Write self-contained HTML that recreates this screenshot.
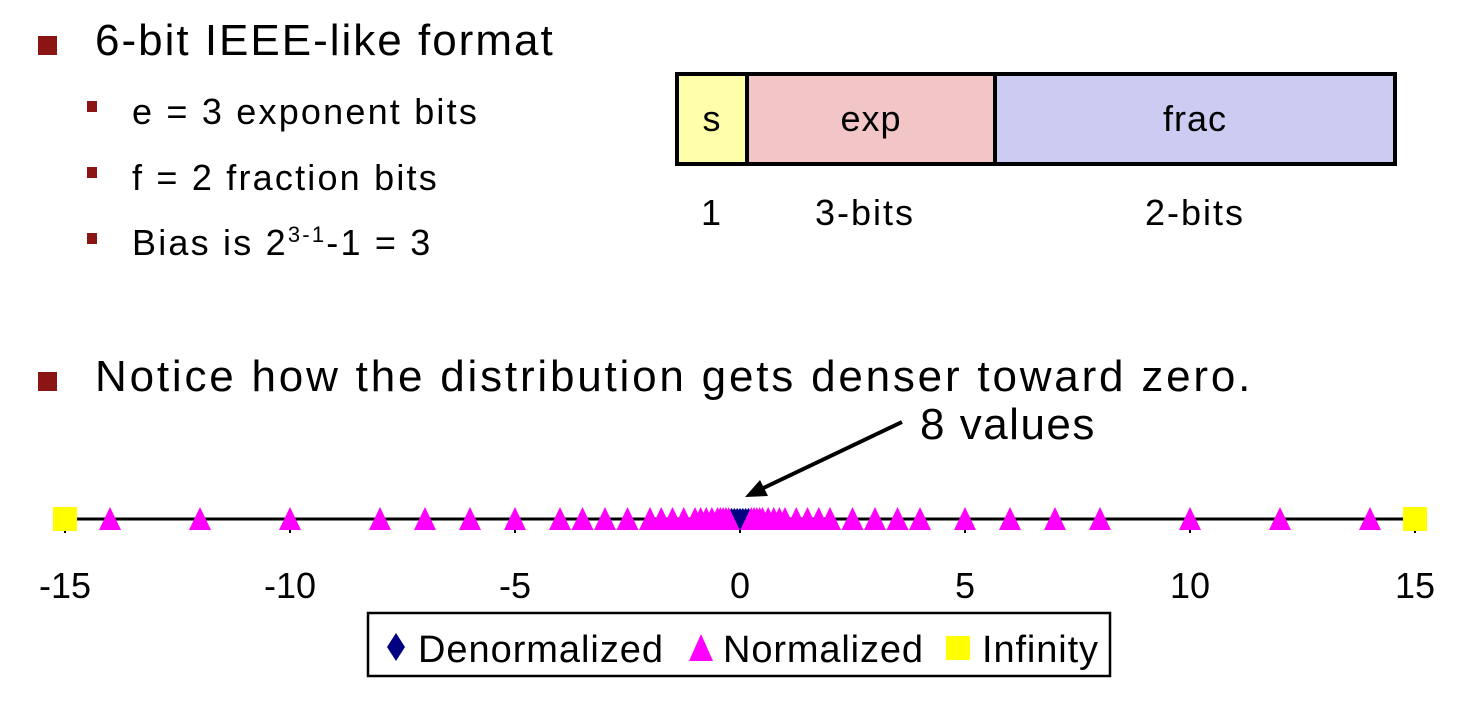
<!DOCTYPE html>
<html><head><meta charset="utf-8"><style>
body{margin:0;background:#fff;width:1481px;height:705px;overflow:hidden;position:relative;font-family:"Liberation Sans",sans-serif}
.t{position:absolute;white-space:nowrap;color:#000}
.b1{position:absolute;width:19px;height:19px;background:#8b1414}
.b2{position:absolute;width:10px;height:11px;background:#8b1414}
.big{font-size:44px;letter-spacing:2px}
.sub{font-size:36px;letter-spacing:2.2px}
</style></head><body>
<div class="b1" style="left:38px;top:36px"></div>
<div class="t big" style="left:95px;top:16px">6-bit IEEE-like format</div>
<div class="b2" style="left:87px;top:101px"></div>
<div class="t sub" style="left:132px;top:91px">e = 3 exponent bits</div>
<div class="b2" style="left:87px;top:167px"></div>
<div class="t sub" style="left:132px;top:157px">f = 2 fraction bits</div>
<div class="b2" style="left:87px;top:233px"></div>
<div class="t sub" style="left:132px;top:222px">Bias is 2<sup style="font-size:22px">3-1</sup>-1 = 3</div>

<div style="position:absolute;left:675px;top:72px;width:722px;height:94px;border:4px solid #000;box-sizing:border-box;display:flex">
<div style="width:66px;background:#ffffaa;border-right:4px solid #000;display:flex;align-items:center;justify-content:center;font-size:36px;letter-spacing:1px">s</div>
<div style="width:244px;background:#f2c6c6;border-right:4px solid #000;display:flex;align-items:center;justify-content:center;font-size:36px;letter-spacing:1px">exp</div>
<div style="flex:1;background:#ccccf2;display:flex;align-items:center;justify-content:center;font-size:36px;letter-spacing:1px">frac</div>
</div>
<div class="t" style="left:701px;top:192px;font-size:36px">1</div>
<div class="t" style="left:815px;top:192px;font-size:36px;letter-spacing:2px">3-bits</div>
<div class="t" style="left:1145px;top:192px;font-size:36px;letter-spacing:2px">2-bits</div>

<div class="b1" style="left:38px;top:372px"></div>
<div class="t" style="left:95px;top:352px;font-size:44px;letter-spacing:2.8px">Notice how the distribution gets denser toward zero.</div>
<div class="t" style="left:920px;top:400px;font-size:44px;letter-spacing:1.5px">8 values</div>

<svg id="chart" width="1481" height="705" style="position:absolute;left:0;top:0"></svg>
<script>
const denormValues=[-0.1875,-0.125,-0.0625,0,0.0625,0.125,0.1875];
const normValues=[0.25,0.3125,0.375,0.4375,0.5,0.625,0.75,0.875,1,1.25,1.5,1.75,2,2.5,3,3.5,4,5,6,7,8,10,12,14];
const infValues=[-15,15];
const tickValues=[-15,-10,-5,0,5,10,15];
const tickLabels=["-15","-10","-5","0","5","10","15"];
const svg=document.getElementById('chart');const NS='http://www.w3.org/2000/svg';
function X(v){return 740+v*45;}const Y=519;
function mk(tag,attrs){const e=document.createElementNS(NS,tag);for(const k in attrs)e.setAttribute(k,attrs[k]);svg.appendChild(e);return e;}
let ax=mk('line',{x1:X(-15),x2:X(15),y1:Y,y2:Y,stroke:'#000','stroke-width':3});


tickValues.forEach((v,i)=>{
 let t=mk('line',{x1:X(v),x2:X(v),y1:Y,y2:Y+14,stroke:'#000','stroke-width':2});
 
 
 let l=mk('text',{x:X(v),y:Y+79,'text-anchor':'middle','font-size':36,'font-family':'Liberation Sans, sans-serif'});
 l.textContent=tickLabels[i];
 
 
});
denormValues.forEach(v=>{
 let d=mk('polygon',{points:`${X(v)},${Y-11} ${X(v)+8},${Y} ${X(v)},${Y+11} ${X(v)-8},${Y}`,fill:'#000080'});
 
 
});
normValues.concat(normValues.map(v=>-v)).forEach(v=>{
 let p=mk('polygon',{points:`${X(v)},${Y-12} ${X(v)+11},${Y+11} ${X(v)-11},${Y+11}`,fill:'#ff00ff'});
 
 
});
infValues.forEach(v=>{
 let r=mk('rect',{x:X(v)-12,y:Y-12,width:24,height:24,fill:'#ffff00'});
 
 
});
let ar=mk('line',{x1:902,y1:422,x2:755,y2:492,stroke:'#000','stroke-width':4});


let ah=mk('polygon',{points:'745,497 760,480 768,496',fill:'#000'});


let lb=mk('rect',{x:368,y:613,width:742,height:63,fill:'#fff',stroke:'#000','stroke-width':2.5});


let ld=mk('polygon',{points:'396,633 405,647 396,661 387,647',fill:'#000080'});


let lt=mk('polygon',{points:'701,634 713,661 689,661',fill:'#ff00ff'});


let ls=mk('rect',{x:946,y:636,width:24,height:24,fill:'#ffff00'});


[['Denormalized',418,'legend-denormalized-label'],['Normalized',723,'legend-normalized-label'],['Infinity',982,'legend-infinity-label']].forEach(a=>{
 let t=mk('text',{x:a[1],y:662,'font-size':38,'font-family':'Liberation Sans, sans-serif',textLength:a[0]==='Denormalized'?245:a[0]==='Normalized'?200:116});
 t.textContent=a[0];
 
 
});
</script>
</body></html>
